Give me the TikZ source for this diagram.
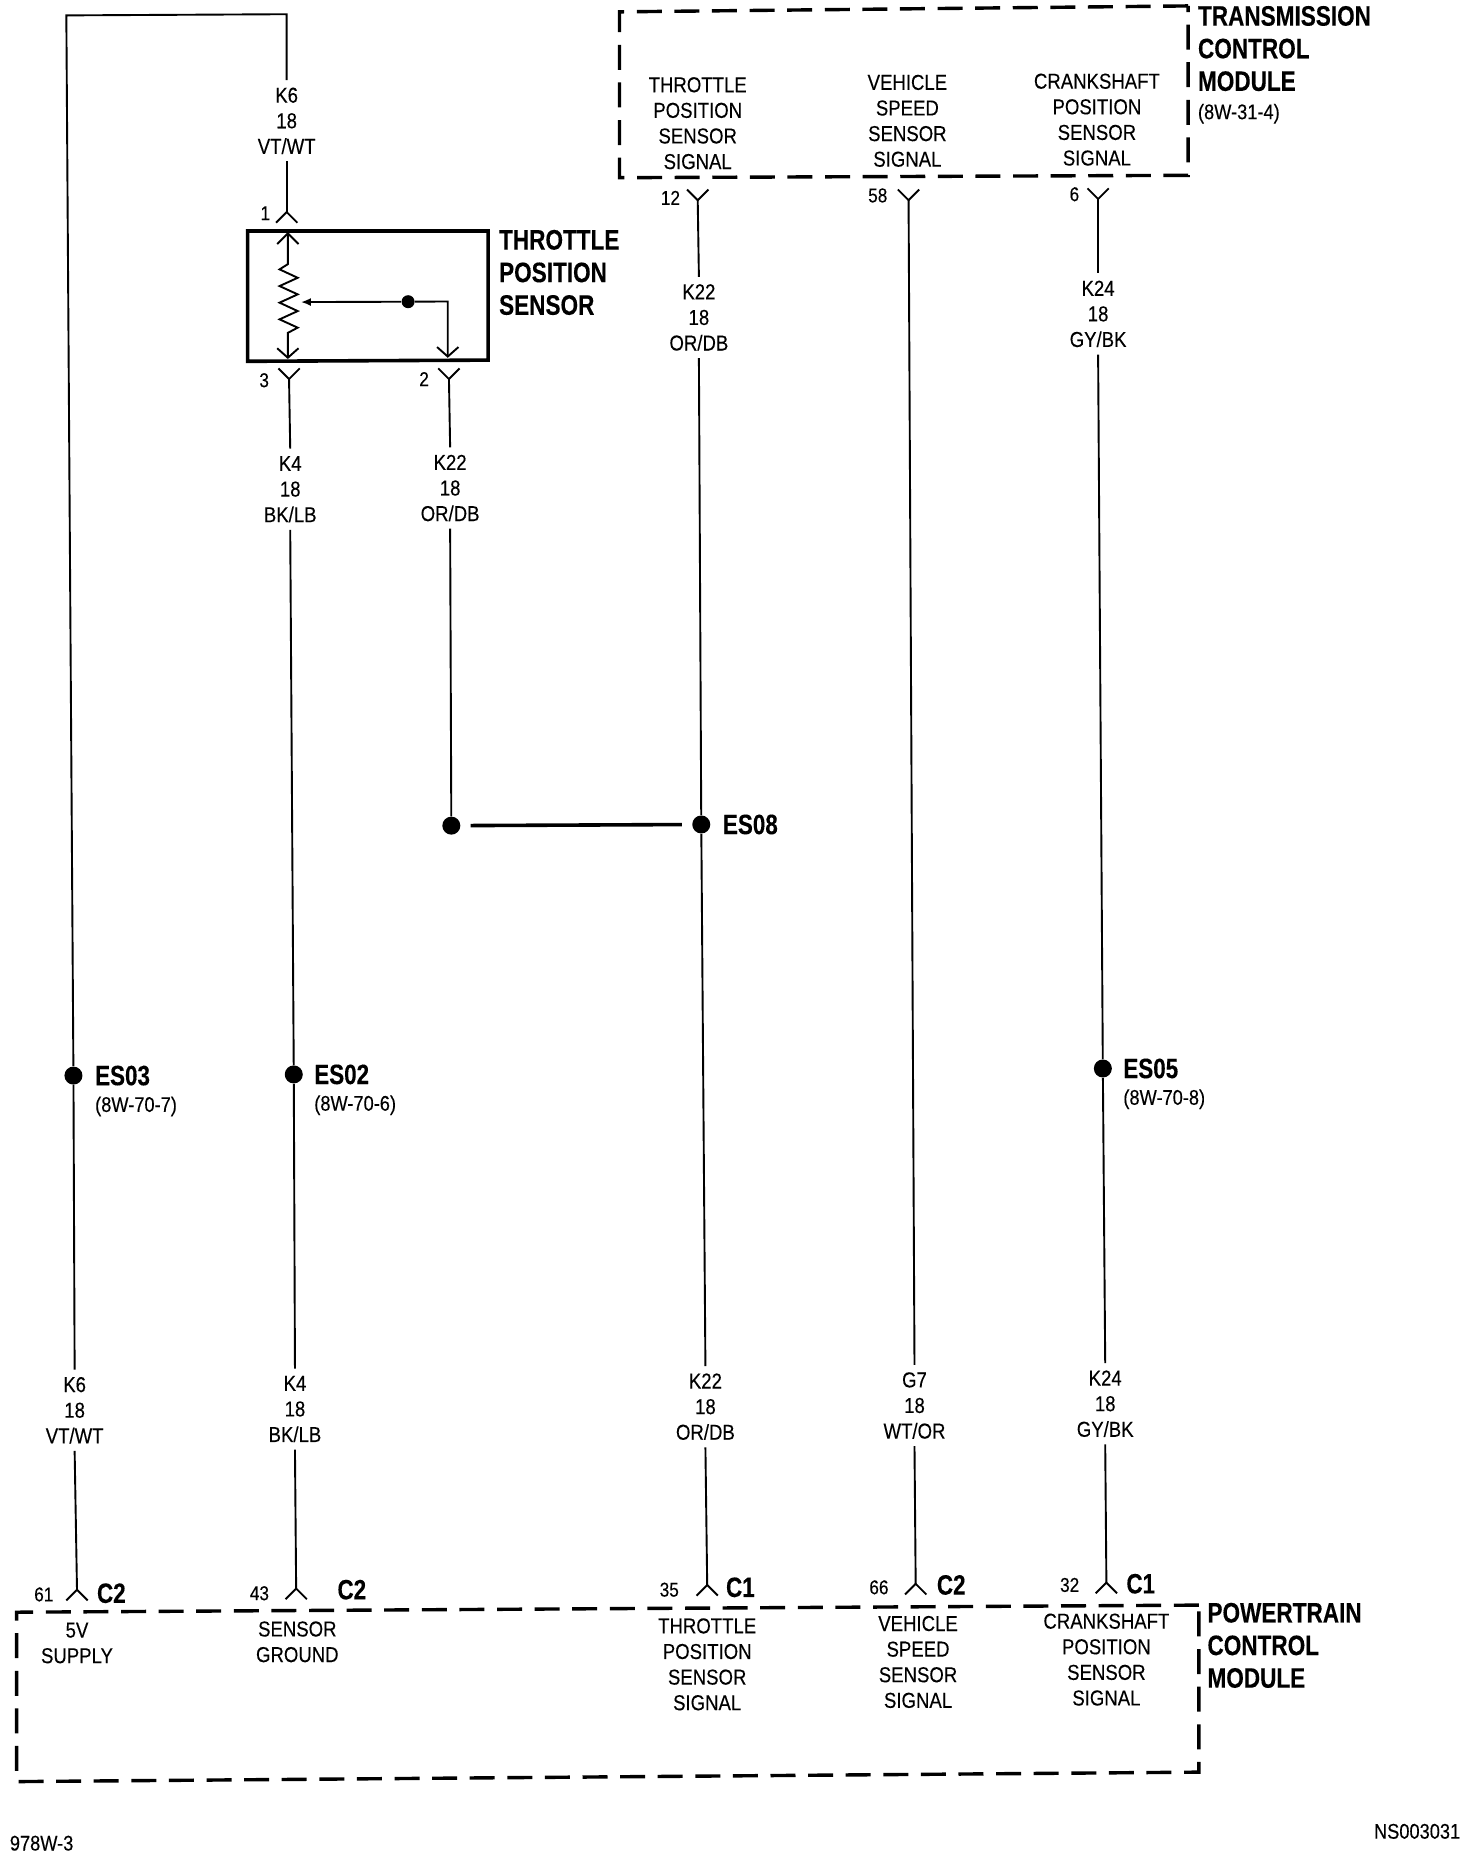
\documentclass[tikz,border=0pt]{standalone}
\usepackage{fontspec}
\setmainfont[FakeStretch=.86,FakeBold=0.2,BoldFeatures={FakeStretch=.8,FakeBold=0.2}]{Liberation Sans}
\usetikzlibrary{arrows.meta}
\tikzset{
  wire/.style={draw=black,line width=0.95pt,line cap=butt},
  boxline/.style={draw=black,line width=1.8pt},
  dashline/.style={draw=black,line width=1.7pt,dash pattern=on 12.5pt off 6.3pt},
  lab/.style={font=\fontsize{10.8}{12.8}\selectfont,align=center,inner sep=3.5pt},
  pinno/.style={font=\fontsize{10}{12}\selectfont,inner sep=0pt},
  title/.style={font=\fontsize{14.1}{16.3}\selectfont\bfseries,align=left,anchor=west,inner sep=0pt},
  tag/.style={font=\fontsize{14}{16}\selectfont\bfseries,inner sep=0pt},
  ref/.style={font=\fontsize{10.6}{12}\selectfont,anchor=west,inner sep=0pt},
  splice/.style={circle,fill=black,inner sep=0pt,minimum size=9pt},
}
\newcommand{\pinup}[3]{\coordinate (#1) at (#2,#3); \draw[wire] (#1) ++(-9,9) -- (#1) -- ++(9,9);}
\newcommand{\pindown}[3]{\coordinate (#1) at (#2,#3); \draw[wire] (#1) ++(-9,-9) -- (#1) -- ++(9,-9);}
\begin{document}
\begin{tikzpicture}[x=0.5923pt,y=-0.5923pt]
\useasboundingbox (0,0) rectangle (1242.6,1568.5);
\fill[white] (0,0) rectangle (1242.6,1568.5);

% Transmission control module
\draw[dashline] (1003,5) -- (523,10) -- (523,150) -- (1003,148) -- cycle;
\node[title] (tcmt) at (1011,41) {TRANSMISSION\\CONTROL\\MODULE};
\node[ref] (tcmr) at (1011,96) {(8W-31-4)};
\node[lab] (t1) at (589,104) {THROTTLE\\POSITION\\SENSOR\\SIGNAL};
\node[lab] (t2) at (766,102) {VEHICLE\\SPEED\\SENSOR\\SIGNAL};
\node[lab] (t3) at (926,101) {CRANKSHAFT\\POSITION\\SENSOR\\SIGNAL};

% Powertrain control module
\draw[dashline] (1012,1355) -- (14,1361) -- (14,1504) -- (1012,1496) -- cycle;
\node[title] (pcmt) at (1019,1389) {POWERTRAIN\\CONTROL\\MODULE};
\node[lab] (b1) at (65,1387) {5V\\SUPPLY};
\node[lab] (b2) at (251,1386) {SENSOR\\GROUND};
\node[lab] (b3) at (597,1405) {THROTTLE\\POSITION\\SENSOR\\SIGNAL};
\node[lab] (b4) at (775,1403) {VEHICLE\\SPEED\\SENSOR\\SIGNAL};
\node[lab] (b5) at (934,1401) {CRANKSHAFT\\POSITION\\SENSOR\\SIGNAL};

% Throttle position sensor
\draw[boxline] (209,195) -- (412,195) -- (412,304) -- (209,305) -- cycle;
\node[title] (tpst) at (421,230) {THROTTLE\\POSITION\\SENSOR};
\coordinate (rtop) at (243,197);
\coordinate (rbot) at (243,302);
\coordinate (wipe) at (378,301);
\coordinate (wtip) at (254,255);
\node[splice,minimum size=6.5pt] (wdot) at (344.5,254.7) {};
\draw[wire] (rtop) ++(-9,9) -- (rtop) -- ++(9,9);
\draw[wire] (rtop) -- (243,223) -- (236,227.4) -- (251.3,234.5) -- (236,241.5) -- (251.3,248.5) -- (236,255.5) -- (251.3,262.6) -- (236,269.6) -- (251.3,276.6) -- (243,281) -- (rbot);
\draw[wire] (rbot) ++(-9,-8) -- (rbot) -- ++(9,-8);
\draw[wire] (wipe) ++(-9,-8) -- (wipe) -- ++(9,-8);
\draw[wire] (wipe) -- (378,254.5) -- (wdot);
\draw[wire,-{Latex[length=5pt,width=4pt]}] (wdot) -- (wtip);

% Connector pins
\pinup{p1}{242}{179}
\pindown{p3}{244}{320}
\pindown{p2}{379}{320}
\pindown{p12}{589}{169}
\pindown{p58}{767}{169}
\pindown{p6}{927}{168}
\pinup{q61}{65}{1342}
\pinup{q43}{250}{1341}
\pinup{q35}{597}{1338}
\pinup{q66}{773}{1337}
\pinup{q32}{934}{1336}

% Pin numbers and connector names
\node[pinno] (n1) at (224,180) {1};
\node[pinno] (n3) at (223,321) {3};
\node[pinno] (n2) at (358,320) {2};
\node[pinno] (n12) at (566,167) {12};
\node[pinno] (n58) at (741,165) {58};
\node[pinno] (n6) at (907,164) {6};
\node[pinno] (n61) at (37,1346) {61};
\node[pinno] (n43) at (219,1345) {43};
\node[pinno] (n35) at (565,1342) {35};
\node[pinno] (n66) at (742,1340) {66};
\node[pinno] (n32) at (903,1338) {32};
\node[tag] (c61) at (94,1345) {C2};
\node[tag] (c43) at (297,1342) {C2};
\node[tag] (c35) at (625,1340) {C1};
\node[tag] (c66) at (803,1338) {C2};
\node[tag] (c32) at (963,1337) {C1};

% Wire labels
\node[lab] (w1) at (242,102) {K6\\18\\VT/WT};
\node[lab] (w2) at (63,1190.5) {K6\\18\\VT/WT};
\node[lab] (w3) at (245,413) {K4\\18\\BK/LB};
\node[lab] (w4) at (249,1189.5) {K4\\18\\BK/LB};
\node[lab] (w5) at (380,412) {K22\\18\\OR/DB};
\node[lab] (w6) at (590,268) {K22\\18\\OR/DB};
\node[lab] (w7) at (595.5,1187.5) {K22\\18\\OR/DB};
\node[lab] (w8) at (772,1186.5) {G7\\18\\WT/OR};
\node[lab] (w9) at (927,265) {K24\\18\\GY/BK};
\node[lab] (w10) at (933,1185) {K24\\18\\GY/BK};

% Splices
\node[splice] (es03) at (62,908) {};
\node[splice] (es02) at (248,907) {};
\node[splice] (es05) at (931,902) {};
\node[splice] (es08) at (592,696) {};
\node[splice] (es08b) at (381,697) {};
\node[tag,anchor=west] (l03) at (80,908) {ES03};
\node[tag,anchor=west] (l02) at (265,907) {ES02};
\node[tag,anchor=west] (l05) at (948,902) {ES05};
\node[tag,anchor=west] (l08) at (610,696) {ES08};
\node[ref] (r03) at (80,934) {(8W-70-7)};
\node[ref] (r02) at (265,933) {(8W-70-6)};
\node[ref] (r05) at (948,928) {(8W-70-8)};

% Wires
\coordinate (k6a) at (56,13);
\coordinate (k6b) at (242,12);
\draw[wire] (w1.north) -- (k6b) -- (k6a) -- (es03) -- (w2.north);
\draw[wire] (w1.south) -- (p1);
\draw[wire] (w2.south) -- (q61);
\draw[wire] (p3) -- (w3.north);
\draw[wire] (w3.south) -- (es02) -- (w4.north);
\draw[wire] (w4.south) -- (q43);
\draw[wire] (p2) -- (w5.north);
\draw[wire] (w5.south) -- (es08b);
\draw[wire,line width=1.8pt,shorten <=5pt,shorten >=5pt] (es08b) -- (es08);
\draw[wire] (p12) -- (w6.north);
\draw[wire] (w6.south) -- (es08) -- (w7.north);
\draw[wire] (w7.south) -- (q35);
\draw[wire] (p58) -- (w8.north);
\draw[wire] (w8.south) -- (q66);
\draw[wire] (p6) -- (w9.north);
\draw[wire] (w9.south) -- (es05) -- (w10.north);
\draw[wire] (w10.south) -- (q32);

% Drawing numbers
\node[ref] (dno) at (8,1556) {978W-3};
\node[ref,anchor=east] (nsno) at (1233,1546) {NS003031};
\end{tikzpicture}
\end{document}
